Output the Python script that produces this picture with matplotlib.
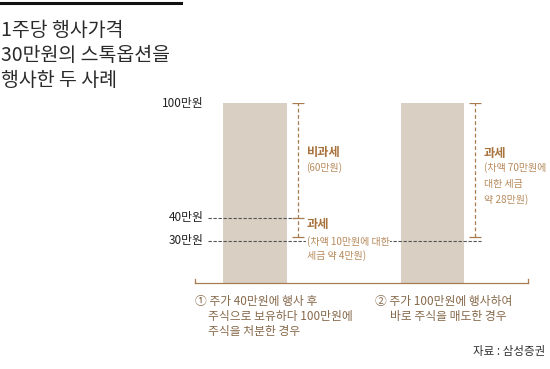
import matplotlib
matplotlib.use('Agg')
import matplotlib.pyplot as plt
import numpy as np
from matplotlib.lines import Line2D

plt.rcParams['font.family'] = ['Noto Sans CJK KR', 'DejaVu Sans']

# 데이터
title_lines = ['1주당 행사가격', '30만원의 스톡옵션을', '행사한 두 사례']
cases = ['case1', 'case2']
bar_tops = [100, 100]
strike = 30          # 행사가격
exercise_price = 40  # 사례1 행사 시 주가
sale_price = 100     # 처분/매도 가격
level_labels = {100: '100만원', 40: '40만원', 30: '30만원'}
captions = [
    ['① 주가 40만원에 행사 후', '주식으로 보유하다 100만원에', '주식을 처분한 경우'],
    ['② 주가 100만원에 행사하여', '바로 주식을 매도한 경우'],
]
source = '자료 : 삼성증권'

BAR_C = '#d9cfc3'
BRK_C = '#a87c50'
TXT_B = '#a8723c'
TXT_L = '#b88a5c'
CAP_C = '#86694b'

# 도식이라 눈금 간격이 일정하지 않음 (0,30,40,100 구간별 높이)
sch_vals = [0, 30, 40, 100]
sch_h = [0, 42.5, 65.5, 181]


def fwd(v):
    return np.interp(v, sch_vals, sch_h)


def inv(h):
    return np.interp(h, sch_h, sch_vals)


fig = plt.figure(figsize=(5.5, 3.69), dpi=100)
W, H = 550, 369

# 제목
fig.add_artist(Line2D([0, 181 / W], [1 - 3 / H, 1 - 3 / H], color='#111111', lw=2.2))
for i, line in enumerate(title_lines):
    fig.text(1 / W, 1 - (30 + i * 25.5) / H, line, fontsize=14, color='#2a2a2a',
             va='center', ha='left')

ax = fig.add_axes([195 / W, (H - 283) / H, (528 - 195) / W, (283 - 103) / H])
ax.set_yscale('function', functions=(fwd, inv))
ax.set_ylim(0, 100)
ax.set_xlim(-0.338, 1.538)
x = np.arange(len(cases))
ax.bar(x, bar_tops, width=0.36, color=BAR_C, zorder=1)

for s in ['top', 'right', 'left']:
    ax.spines[s].set_visible(False)
ax.spines['bottom'].set_color(BRK_C)
ax.spines['bottom'].set_linewidth(0.9)
ax.set_xticks([])
ax.set_yticks([])
for xe in [0, 1]:
    ax.add_line(Line2D([xe, xe], [0, 0.025], transform=ax.transAxes, color=BRK_C, lw=0.9,
                       clip_on=False))

# 가로 점선 (40, 30)
ax.hlines(exercise_price, -0.265, 0.24, color='#555555', lw=0.8, linestyles=(0, (3, 1.5)), zorder=3)
ax.hlines(strike, -0.265, 1.275, color='#555555', lw=0.8, linestyles=(0, (3, 1.5)), zorder=3)

# 왼쪽 금액 라벨
for v, lab in level_labels.items():
    ax.text(-0.29, v, lab, ha='right', va='center', fontsize=8.5, color='#222222', clip_on=False)

# 괄호 (점선)
off = 0.24
cap = 0.034
brk = dict(color=BRK_C, lw=0.9, linestyles=(0, (3, 2)), zorder=3)
ax.vlines(x[0] + off, strike + 1.5, sale_price, **brk)
ax.vlines(x[1] + off, strike + 1.5, sale_price, **brk)
for xb, levels in [(x[0] + off, [sale_price, exercise_price, strike + 1.5]),
                   (x[1] + off, [sale_price, strike + 1.5])]:
    for lv in levels:
        ax.hlines(lv, xb - cap, xb + cap, color=BRK_C, lw=0.9, zorder=3)


def note(xb, yv, dy, s, bold=False, bg=False):
    kw = {}
    if bg:
        kw['bbox'] = dict(facecolor='white', edgecolor='none', pad=0.6)
    ax.annotate(s, xy=(xb, yv), xytext=(9, dy), textcoords='offset pixels',
                ha='left', va='center', fontsize=8.8 if bold else 7.2,
                fontweight='bold' if bold else 'normal',
                color=TXT_B if bold else TXT_L, annotation_clip=False, zorder=5, **kw)


# 사례1
note(x[0] + off, 70, 8, '비과세', bold=True)
note(x[0] + off, 70, -7, '(60만원)')
note(x[0] + off, exercise_price, -7, '과세', bold=True)
note(x[0] + off, exercise_price, -24, '(차액 10만원에 대한', bg=True)
note(x[0] + off, exercise_price, -38, '세금 약 4만원)')
# 사례2
note(x[1] + off, sale_price, -50, '과세', bold=True)
note(x[1] + off, sale_price, -65, '(차액 70만원에')
note(x[1] + off, sale_price, -81, '대한 세금')
note(x[1] + off, sale_price, -97, '약 28만원)')

# 하단 설명
cap_x = [(195, 208), (375, 390)]
for (cx, ix), lines in zip(cap_x, captions):
    for j, line in enumerate(lines):
        fig.text((cx if j == 0 else ix) / W, 1 - (302 + j * 14.5) / H, line, fontsize=8.5,
                 color=CAP_C, ha='left', va='center')

fig.text(545 / W, 1 - 351 / H, source, fontsize=8.3, color='#333333', ha='right', va='center')

plt.savefig('out.png', dpi=100)
plt.close()
